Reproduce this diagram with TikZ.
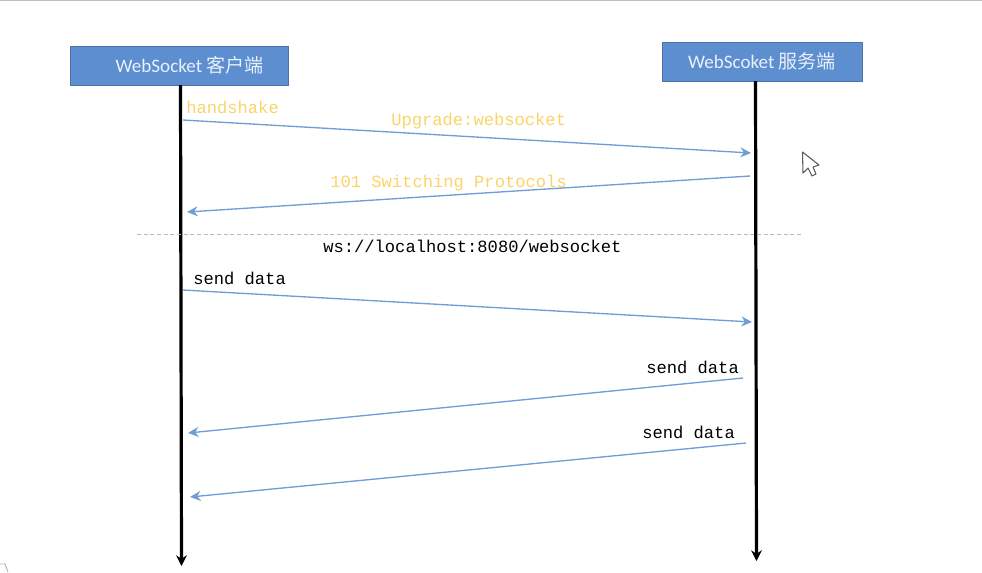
\documentclass[tikz,border=0pt]{standalone}
\usepackage{fontspec}
\setmainfont{Carlito}
\newfontfamily\cjkfont{Noto Sans CJK SC}
\newfontfamily\monofont{Liberation Mono}
\usepackage{xcolor}
\usetikzlibrary{arrows.meta}
\definecolor{boxfill}{RGB}{93,143,208}
\definecolor{boxline}{RGB}{75,115,165}
\definecolor{boxtext}{RGB}{232,240,250}
\definecolor{msgline}{RGB}{112,158,212}
\definecolor{msgyellow}{RGB}{250,212,105}
\tikzset{
    hostbox/.style={draw=boxline, fill=boxfill, text=boxtext, inner sep=0pt, font=\fontsize{14.3}{17}\selectfont},
    lifeline/.style={-{Stealth[length=8pt,width=8pt]}, line width=2.4pt, black},
    msg/.style={-{Stealth[length=8pt,width=7.5pt]}, line width=1pt, msgline},
    msgtext/.style={inner sep=0pt, anchor=base west, font=\monofont\fontsize{12.85}{15}\selectfont},
    hello/.style={msgtext, text=msgyellow}
}
\begin{document}
\begin{tikzpicture}[x=0.75pt, y=-0.75pt]
    \useasboundingbox (0,0) rectangle (982,572);
    \draw[line width=1pt, black!25] (0,0.5) -- (982,0.5);
    % hosts
    \node[hostbox, minimum width=163.5pt, minimum height=29pt] (client) at (179,65.5) {\hspace*{16pt}WebSocket {\cjkfont 客户端}};
    \node[hostbox, minimum width=150pt, minimum height=29pt] (server) at (762,61.5) {WebScoket {\cjkfont 服务端}};
    \coordinate (clienttop) at (180.5,85);
    \coordinate (clientend) at (181.5,566);
    \coordinate (servertop) at (755.5,81);
    \coordinate (serverend) at (756.5,561);
    \draw[lifeline] (clienttop) -- (clientend);
    \draw[lifeline] (servertop) -- (serverend);
    % messages
    \coordinate (a1) at (183,120);
    \coordinate (b1) at (751,153);
    \coordinate (b2) at (750,176);
    \coordinate (a2) at (187,212);
    \coordinate (a3) at (183,290);
    \coordinate (b3) at (752,322);
    \coordinate (b4) at (743,378);
    \coordinate (a4) at (188,433);
    \coordinate (b5) at (746,443);
    \coordinate (a5) at (190,497);
    \draw[msg] (a1) -- (b1);
    \draw[msg] (b2) -- (a2);
    \draw[msg] (a3) -- (b3);
    \draw[msg] (b4) -- (a4);
    \draw[msg] (b5) -- (a5);
    % websocket opened here
    \coordinate (sepl) at (137,234);
    \coordinate (sepr) at (803,234);
    \draw[dash pattern=on 3pt off 2pt, line width=0.6pt, black!28] (sepl) -- (sepr);
    % labels
    \node[hello] (shake) at (186,113) {handshake};
    \node[hello] (upgrade) at (391,125) {Upgrade:websocket};
    \node[hello] (proto) at (330,187) {101 Switching Protocols};
    \node[msgtext] (url) at (323,252) {ws://localhost:8080/websocket};
    \node[msgtext] (senda) at (193,284) {send data};
    \node[msgtext] (sendb) at (646,373) {send data};
    \node[msgtext] (sendc) at (642,438) {send data};
    % mouse pointer
    \draw[line width=0.8pt, black!65, fill=white, line join=round] (802.5,152) -- (803,173) -- (808,168) -- (812,176) -- (816,174) -- (813,167) -- (819,165) -- cycle;
    \draw[line width=0.7pt, black!30] (0,564) -- (5,564) -- (8,572);
\end{tikzpicture}
\end{document}
